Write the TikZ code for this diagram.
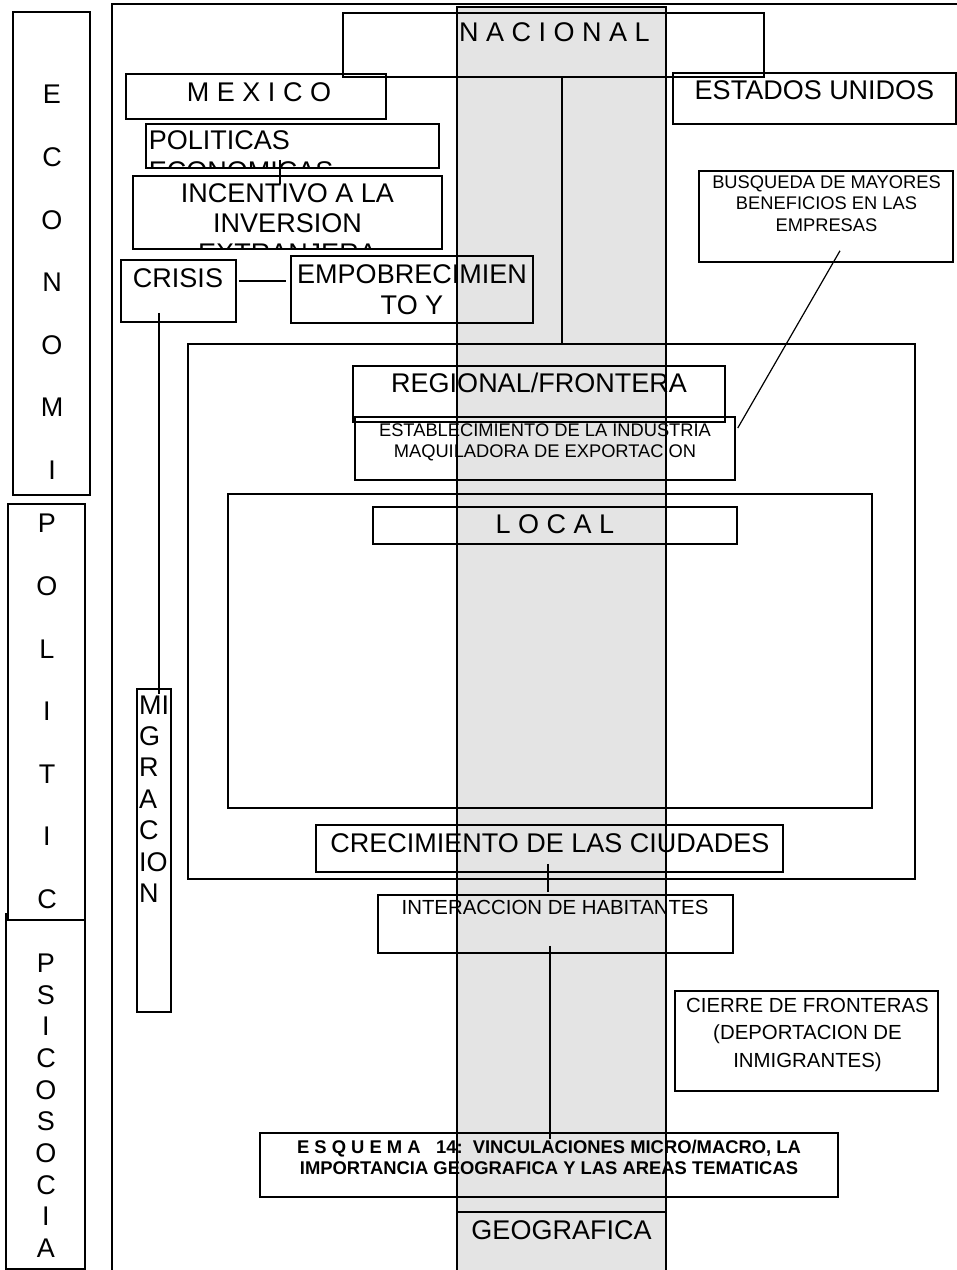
\documentclass[tikz,border=0pt]{standalone}
\usepackage{fontspec}
\setmainfont{Liberation Sans}
\usepackage{xcolor}
\usepackage{tikz}
\usetikzlibrary{positioning, calc}

\definecolor{bandgray}{RGB}{228,228,228}

\newcommand{\lbigfont}{\fontsize{27}{31}\selectfont}
\newcommand{\lsmallfont}{\fontsize{18.3}{21.5}\selectfont}
\newcommand{\lmidfont}{\fontsize{20.4}{27.5}\selectfont}
\newcommand{\lcolfont}{\fontsize{27}{62.6}\selectfont}
\newcommand{\lpsifont}{\fontsize{27}{31.7}\selectfont}
\newcommand{\lmigfont}{\fontsize{27}{31.4}\selectfont}
\newcommand{\lesqfont}{\bfseries\fontsize{18.4}{21}\selectfont}

\begin{document}
\begin{tikzpicture}[x=1pt, y=-1pt,
    box/.style={draw, line width=1.5pt, inner sep=0pt},
    band/.style={draw, fill=bandgray, line width=1.6pt, inner sep=0pt},
    frame/.style={draw, line width=2pt, inner sep=0pt},
    lbl/.style={inner sep=0pt, align=center, font=\lbigfont},
    cliplbl/.style={lbl, minimum width=0pt, minimum height=0pt},
    link/.style={line width=1.2pt}]
      \useasboundingbox (0,0) rectangle (957,1270);

      % geografica band and outer frame
      \node[band, minimum width=209pt, minimum height=1268pt] (geoband) at (561.5,641) {};
      \node[frame, minimum width=850pt, minimum height=1276pt] (frame) at (537,642) {};
      \coordinate (geocut) at (0,1212);
      \draw[line width=1.5pt] (geoband.west |- geocut) -- (geoband.east |- geocut);
      \node[lbl] (geo-txt) at (561.5,1230) {GEOGRAFICA};

      % side columns
      \node[box, minimum width=77pt, minimum height=483pt] (econ) at (51.5,253.5) {};
      \node[lbl, font=\lcolfont] (econ-txt) at (52,282.5) {E\\C\\O\\N\\O\\M\\I};
      \node[box, minimum width=79pt, minimum height=355pt] (psico) at (45.5,1091.5) {};
      \node[lbl, font=\lpsifont] (psico-txt) at (46,1121.5) {P\\S\\I\\C\\O\\S\\O\\C\\I\\A\\L};
      \node[box, fill=white, minimum width=77pt, minimum height=416pt] (poli) at (46.5,712) {};
      \node[lbl, font=\lcolfont] (poli-txt) at (47,711.5) {P\\O\\L\\I\\T\\I\\C};

      % nacional
      \node[box, minimum width=421pt, minimum height=64pt] (nacional) at (553.5,45) {};
      \node[lbl] (nacional-txt) at (554.5,32) {N A C I O N A L};
      \node[box, minimum width=260pt, minimum height=45pt] (mexico) at (256,96.5) {};
      \node[lbl] (mexico-txt) at (259,92) {M E X I C O};
      \node[box, minimum width=283pt, minimum height=51pt] (estados) at (814.5,98.5) {};
      \node[lbl] (estados-txt) at (814.5,90) {ESTADOS UNIDOS};

      \node[box, minimum width=293pt, minimum height=44pt,
            path picture={\node[cliplbl, align=left, anchor=north west] (politicas-txt)
              at ([shift={(2pt,-6pt)}]path picture bounding box.north west) {POLITICAS\\ECONOMICAS};}]
            (politicas) at (292.5,146) {};
      \node[box, minimum width=309pt, minimum height=73pt,
            path picture={\node[cliplbl, font=\fontsize{27}{30}\selectfont, anchor=north] (incentivo-txt)
              at ([yshift=-7pt]path picture bounding box.north) {INCENTIVO A LA\\INVERSION\\EXTRANJERA};}]
            (incentivo) at (287.5,212.5) {};

      \node[box, minimum width=115pt, minimum height=62pt] (crisis) at (178.5,291) {};
      \node[lbl] (crisis-txt) at (178,278) {CRISIS};
      \node[box, minimum width=242pt, minimum height=67pt] (empob) at (412,289.5) {};
      \node[lbl] (empob-txt) at (412,289.5) {EMPOBRECIMIEN\\TO Y};
      \node[box, minimum width=34pt, minimum height=323pt] (migracion) at (154,850.5) {};
      \node[lbl, font=\lmigfont, align=left, anchor=west] (migracion-txt) at (139,799) {MI\\G\\R\\A\\C\\IO\\N};

      \node[box, minimum width=254pt, minimum height=91pt] (busqueda) at (826,216.5) {};
      \node[lbl, font=\lsmallfont] (busqueda-txt) at (826.5,203.5) {BUSQUEDA DE MAYORES\\BENEFICIOS EN LAS\\EMPRESAS};

      % regional / frontera
      \node[box, line width=1.7pt, minimum width=727pt, minimum height=535pt] (regouter) at (551.5,611.5) {};
      \node[box, minimum width=372pt, minimum height=56pt] (regional) at (539,394) {};
      \node[lbl] (regional-txt) at (539,383) {REGIONAL/FRONTERA};
      \node[box, minimum width=380pt, minimum height=63pt] (establec) at (545,448.5) {};
      \node[lbl, font=\lsmallfont] (establec-txt) at (545,442.5) {ESTABLECIMIENTO DE LA INDUSTRIA\\MAQUILADORA DE EXPORTACION};

      % local
      \node[box, minimum width=644pt, minimum height=314pt] (localouter) at (550,651) {};
      \node[box, minimum width=364pt, minimum height=37pt] (local) at (555,525.5) {};
      \node[lbl] (local-txt) at (555,524) {L O C A L};
      \node[box, minimum width=467pt, minimum height=47pt] (crecimiento) at (549.5,848.5) {};
      \node[lbl] (crecimiento-txt) at (550,843) {CRECIMIENTO DE LAS CIUDADES};

      \node[box, minimum width=355pt, minimum height=58pt] (interaccion) at (555.5,924) {};
      \node[lbl, font=\lmidfont] (interaccion-txt) at (555,907) {INTERACCION DE HABITANTES};
      \node[box, minimum width=263pt, minimum height=100pt] (cierre) at (806.5,1041) {};
      \node[lbl, font=\lmidfont] (cierre-txt) at (807.5,1034.5) {CIERRE DE FRONTERAS\\(DEPORTACION DE\\INMIGRANTES)};
      \node[box, minimum width=578pt, minimum height=64pt] (esquema) at (549,1165) {};
      \node[lbl, font=\lesqfont] (esquema-txt) at (549,1157.5) {E S Q U E M A~~~14:~~VINCULACIONES MICRO/MACRO, LA\\IMPORTANCIA GEOGRAFICA Y LAS AREAS TEMATICAS};

      % connectors
      \draw[link] ([shift={(-12.5pt,9pt)}]politicas.south) -- ([shift={(-7.5pt,-9pt)}]incentivo.north);
      \draw[link] ([shift={(2pt,10pt)}]crisis.east) -- ([shift={(-4pt,8.5pt)}]empob.west);
      \draw[link] ([shift={(-19.5pt,10pt)}]crisis.south) -- ([shift={(5pt,-6pt)}]migracion.north);
      \draw[link] ([xshift=8.5pt]nacional.south) -- ([xshift=10.5pt]regouter.north);
      \draw[link] ([shift={(14pt,12pt)}]busqueda.south) -- ([shift={(2pt,20.5pt)}]establec.east);
      \draw[link] ([shift={(-1.5pt,9pt)}]crecimiento.south) -- ([shift={(-7.5pt,2pt)}]interaccion.north);
      \draw[link] ([shift={(-5.5pt,8pt)}]interaccion.south) -- ([shift={(1pt,-7pt)}]esquema.north);
    \end{tikzpicture}
\end{document}
